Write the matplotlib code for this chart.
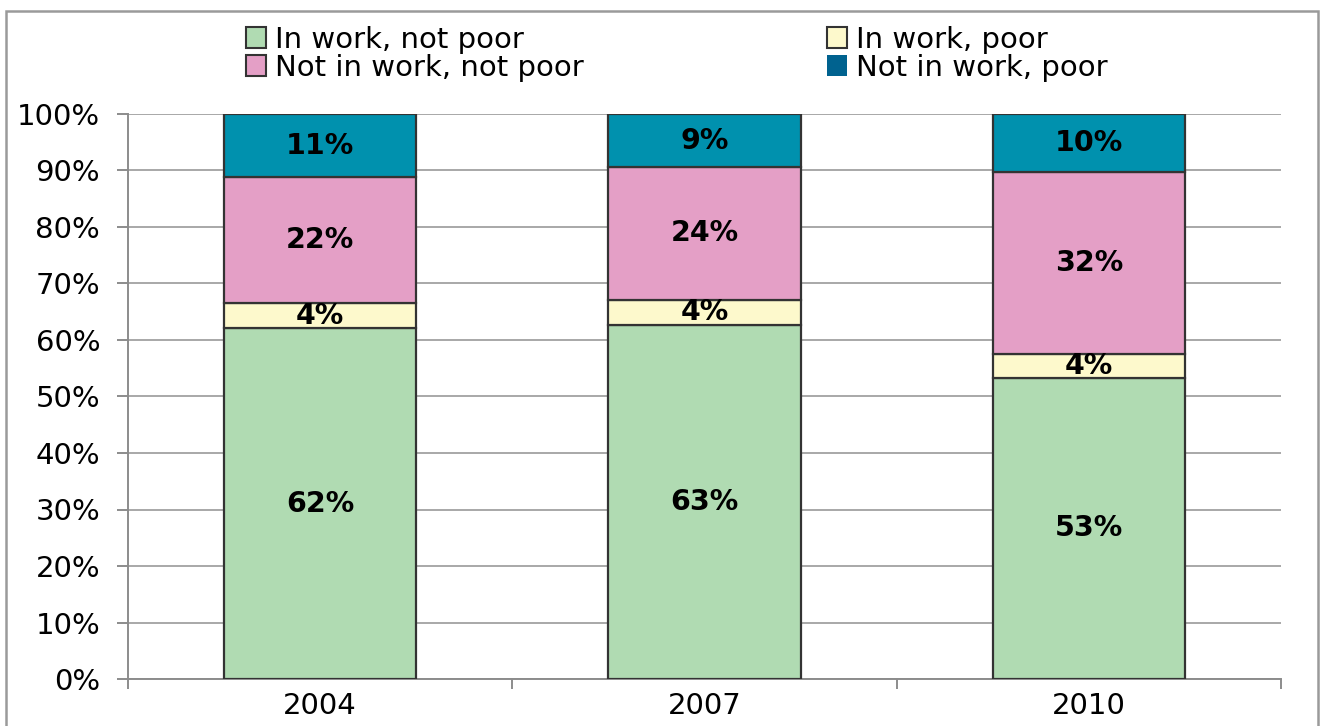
import matplotlib
matplotlib.use("Agg")
import matplotlib.pyplot as plt
from matplotlib.patches import Patch, Rectangle
import numpy as np

# data (share of total, %)
years = ["2004", "2007", "2010"]
in_work_not_poor = [62.1, 62.7, 53.3]
in_work_poor = [4.4, 4.4, 4.2]
not_in_work_not_poor = [22.3, 23.5, 32.2]
not_in_work_poor = [11.2, 9.4, 10.3]

series_names = ["In work, not poor", "In work, poor", "Not in work, not poor", "Not in work, poor"]
colors = ["#B0DBB2", "#FDF9CC", "#E49FC6", "#0091AE"]

plt.rcParams['font.family'] = ['DejaVu Sans']

fig = plt.figure(figsize=(13.22, 7.26), dpi=100)
ax = fig.add_axes([128 / 1322, 1 - 679 / 726, (1281 - 128) / 1322, (679 - 114) / 726])

# gray outer chart frame
fig.patches.append(Rectangle((6 / 1322, -0.05), (1318 - 6) / 1322, 1.05 - 11 / 726,
                             transform=fig.transFigure, fill=False,
                             edgecolor="#9A9A9A", lw=1.8, clip_on=False))

x = np.arange(len(years))
bottom = np.zeros(len(years))
all_series = [in_work_not_poor, in_work_poor, not_in_work_not_poor, not_in_work_poor]
for vals, col in zip(all_series, colors):
    vals = np.array(vals)
    ax.bar(x, vals, 0.5, bottom=bottom, color=col, edgecolor="#333333", lw=1.6, zorder=3)
    # labels in the middle of each piece
    for xi, b, v in zip(x, bottom, vals):
        ax.text(xi, b + v / 2, "%d%%" % round(v), ha="center", va="center",
                fontsize=20.5, fontweight="bold", color="black", zorder=4)
    bottom += vals

ax.set_xlim(-0.5, 2.5)
ax.set_ylim(0, 100)

ax.set_yticks(np.arange(0, 101, 10))
ax.set_yticklabels(["%d%%" % v for v in range(0, 101, 10)], fontsize=21)
ax.yaxis.grid(True, color="#A8A8A8", lw=1.4, zorder=0)
ax.set_axisbelow(True)

# ticks at the category edges, labels at the centres
ax.set_xticks([-0.5, 0.5, 1.5, 2.5])
ax.set_xticklabels([])
ax.set_xticks(x, minor=True)
ax.set_xticklabels(years, minor=True, fontsize=21)
ax.tick_params(axis="x", which="major", length=7, width=1.4, color="#8C8C8C", direction="out")
ax.tick_params(axis="x", which="minor", length=0, pad=9)
ax.tick_params(axis="y", length=8, width=1.4, color="#8C8C8C", pad=12)

for s in ["top", "right"]:
    ax.spines[s].set_visible(False)
for s in ["left", "bottom"]:
    ax.spines[s].set_color("#8C8C8C")
    ax.spines[s].set_linewidth(1.4)

# legend, two columns placed by hand
h = [Patch(facecolor=colors[0], edgecolor="#333333", lw=1.5),
     Patch(facecolor=colors[2], edgecolor="#333333", lw=1.5),
     Patch(facecolor=colors[1], edgecolor="#333333", lw=1.5),
     Patch(facecolor="#00628F", edgecolor="none")]
kw = dict(frameon=False, fontsize=21, handlelength=0.7, handleheight=0.7,
          handletextpad=0.3, labelspacing=0.0, borderpad=0, loc="upper left")
fig.legend(h[:2], [series_names[0], series_names[2]], bbox_to_anchor=(231 / 1322, 1 - 11 / 726), **kw)
fig.legend(h[2:], [series_names[1], series_names[3]], bbox_to_anchor=(812 / 1322, 1 - 11 / 726), **kw)

fig.savefig("out.png", dpi=100)
